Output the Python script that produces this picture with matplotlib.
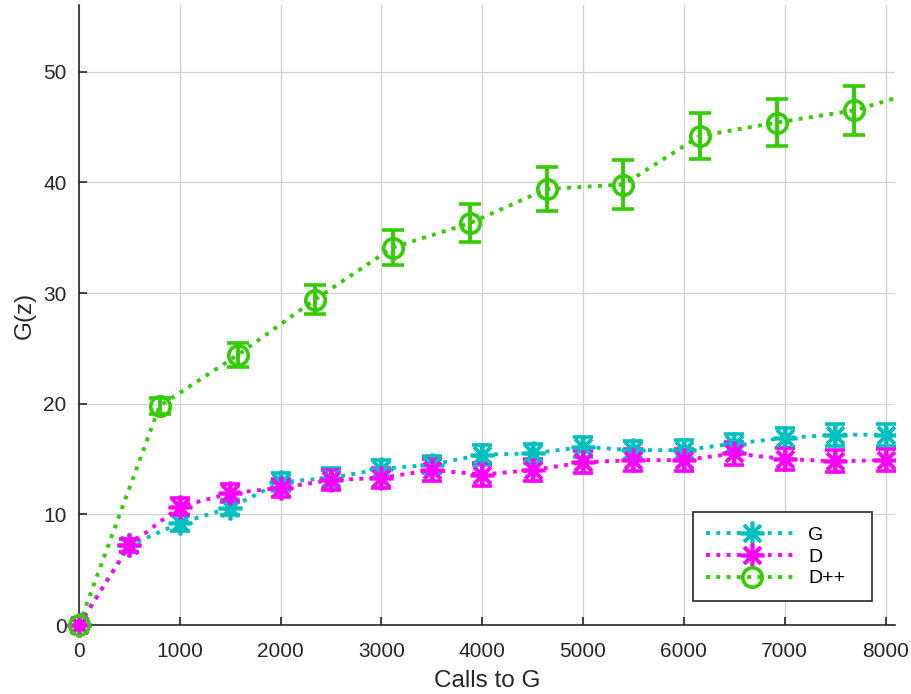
import numpy as np
import matplotlib
matplotlib.use("Agg")
import matplotlib.pyplot as plt
from matplotlib.lines import Line2D

# ---- data ----
x_gd = [0, 500, 1000, 1500, 2000, 2500, 3000, 3500, 4000, 4500,
        5000, 5500, 6000, 6500, 7000, 7500, 8000]
g_val = [0, 7.2, 9.2, 10.6, 12.9, 13.3, 14.1, 14.5, 15.4, 15.5,
         16.1, 15.8, 15.8, 16.4, 16.9, 17.2, 17.2]
g_err = [0, 0.6, 0.7, 0.7, 0.8, 0.9, 0.8, 0.8, 0.9, 0.9,
         0.9, 0.8, 0.9, 0.9, 0.9, 1.0, 1.0]
d_val = [0, 7.2, 10.7, 11.9, 12.4, 13.1, 13.3, 14.0, 13.6, 14.0,
         14.7, 14.9, 14.9, 15.5, 15.0, 14.8, 14.9]
d_err = [0, 0.6, 0.8, 0.8, 0.8, 0.9, 0.9, 1.0, 1.0, 1.0,
         1.0, 1.0, 1.0, 1.0, 1.0, 1.0, 1.0]

x_dpp = [0, 800, 1575, 2340, 3110, 3875, 4640, 5400, 6160, 6920, 7690, 8460]
dpp_val = [0, 19.8, 24.4, 29.4, 34.1, 36.3, 39.4, 39.8, 44.2, 45.4, 46.5, 48.6]
dpp_err = [0, 0.7, 1.1, 1.3, 1.6, 1.7, 2.0, 2.2, 2.1, 2.1, 2.2, 2.2]

C_G = "#00BFBF"
C_D = "#FF00FF"
C_DPP = "#33CC00"
AXC = "#262626"

plt.rcParams.update({
    "font.family": ["Liberation Sans", "DejaVu Sans"],
    "font.size": 14,
    "xtick.direction": "in",
    "ytick.direction": "in",
    "xtick.color": AXC,
    "ytick.color": AXC,
})

fig = plt.figure(figsize=(9.11, 6.94), dpi=100)
ax = fig.add_axes([0.0867, 0.0994, 0.8953, 0.893])

star = (8, 2, 0)   # asterisk: plus + cross
common = dict(linestyle=":", lw=2.8, elinewidth=2.8, capthick=2.8)
series = [
    (x_gd, g_val, g_err, C_G, star, 17, True, 7, "G"),
    (x_gd, d_val, d_err, C_D, star, 17, True, 7, "D"),
    (x_dpp, dpp_val, dpp_err, C_DPP, "o", 14, False, 8, "D++"),
]
handles = []
for xs, ys, es, col, mk, ms, filled, cap, lab in series:
    mfc = col if filled else "none"
    ax.errorbar(xs, ys, yerr=es, color=col, marker=mk, ms=ms, mfc=mfc,
                mew=2.6, capsize=cap, **common)
    # the origin marker sits on the axes corner and is not clipped
    ax.plot(xs[:1], ys[:1], linestyle="none", marker=mk, ms=ms, mfc=mfc,
            mec=col, mew=2.6, clip_on=False, zorder=3)
    handles.append(Line2D([], [], color=col, linestyle=":", lw=2.8,
                          marker=mk, ms=ms, mfc=mfc, mew=2.6, label=lab))

ax.set_xlim(0, 8090)
ax.set_ylim(0, 56)
ax.set_xticks(np.arange(0, 8001, 1000))
ax.set_yticks(np.arange(0, 51, 10))
ax.tick_params(labelsize=15, length=6, width=1.2)
ax.tick_params(axis="x", pad=12)
ax.tick_params(axis="y", pad=9)
ax.grid(True, color="#d0d0d0", lw=0.9)
ax.set_axisbelow(True)
for s in ("top", "right"):
    ax.spines[s].set_visible(False)
for s in ("left", "bottom"):
    ax.spines[s].set_color(AXC)
    ax.spines[s].set_linewidth(1.2)

ax.set_xlabel("Calls to G", fontsize=17.5, color=AXC, labelpad=7)
ax.set_ylabel("G(z)", fontsize=17.5, color=AXC, labelpad=5)

leg = ax.legend(handles=handles, loc="lower left", mode="expand",
                bbox_to_anchor=(0.7525, 0.0387, 0.2193, 0.1355),
                borderaxespad=0, fontsize=14, fancybox=False, framealpha=1,
                edgecolor="#262626", handlelength=4.7, borderpad=0.7,
                labelspacing=0.22, handletextpad=0.55)
leg.get_frame().set_linewidth(1.2)

fig.savefig("out.png", dpi=100)
